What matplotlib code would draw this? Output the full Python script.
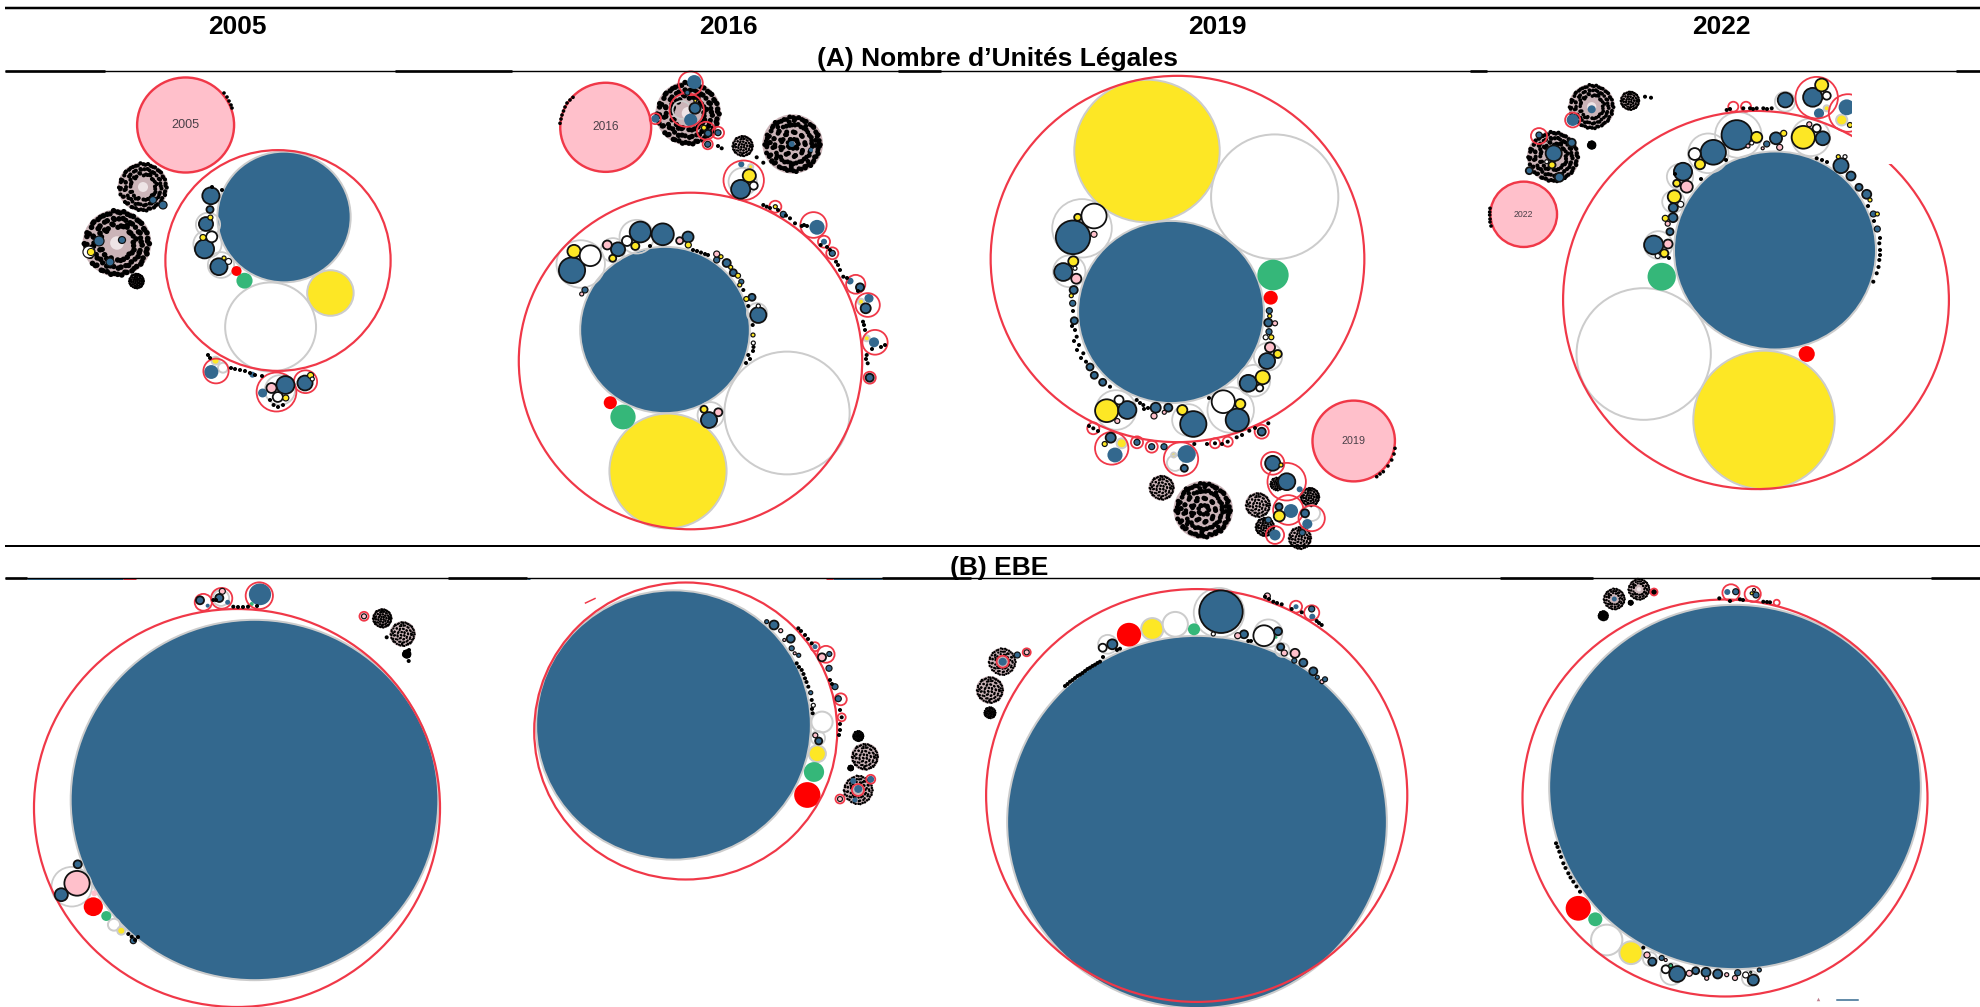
import matplotlib
matplotlib.use("Agg")
import matplotlib.pyplot as plt
from matplotlib.patches import Ellipse, Rectangle

# ---- categories (colour code of each bubble)
COLOURS = {"B": "#33688e", "Y": "#fde725", "W": "#ffffff", "P": "#ffc0cb", "G": "#35b779", "R": "#ff0000"}

YEARS = ["2005", "2016", "2019", "2022"]
YEAR_X = [237, 728, 1217, 1721]
SECTION_A = "(A) Nombre d’Unités Légales"
SECTION_B = "(B) EBE"

# ---- shared look of a dense swarm of micro-bubbles (unit offsets)
DISC_U = [(-.1,-.9),(.2,-.88),(.45,-.75),(.7,-.55),(.85,-.3),(.92,.02),(.85,.32),(.68,.6),(.42,.8),(.12,.92),
          (-.18,.88),(-.45,.76),(-.7,.58),(-.87,.3),(-.93,.02),(-.85,-.3),(-.65,-.6),(-.38,-.76),(-.1,-.62),
          (.18,-.65),(.45,-.48),(.62,-.22),(.66,.08),(.55,.38),(.3,.58),(.02,.66),(-.27,.6),(-.52,.4),(-.66,.12),
          (-.62,-.18),(-.45,-.42),(-.2,-.4),(.08,-.38),(.32,-.25),(.42,.02),(.3,.3),(.05,.42),(-.22,.34),(-.4,.1),
          (-.32,-.15),(-.08,-.15),(.15,-.08),(.14,.14),(-.1,.12),(.76,-.12),(-.76,-.05),(.05,-.78),(-.05,.8),
          (.6,.72),(-.58,-.72),(.78,.42),(-.78,.42)]
RING_U = [(-.1,-.95),(.2,-.92),(.48,-.78),(.72,-.58),(.88,-.3),(.95,.02),(.88,.32),(.7,.62),(.44,.82),(.14,.94),
          (-.18,.92),(-.46,.8),(-.72,.6),(-.9,.3),(-.96,.02),(-.88,-.3),(-.68,-.62),(-.4,-.8),(-.1,-.72),(.18,-.72),
          (.45,-.56),(.68,-.3),(.74,.06),(.62,.4),(.34,.66),(.04,.74),(-.3,.68),(-.58,.44),(-.74,.12),(-.7,-.2),
          (-.5,-.5),(.3,-.52),(.56,-.12),(.5,.2),(-.5,.2),(-.46,-.18),(.3,.42),(-.3,.46),(-.36,-.38),(.12,-.5),
          (.36,-.32),(.02,.5)]

# ---- A 2005
a05_pink = [(185.6,125,48,"2005")]
a05_plain = [(284,217,66,"B"),(270.6,327,45,"W"),(330.4,293,23,"Y"),(244.5,280.7,8,"G"),(236.5,271,5,"R"),
             (211.3,372,7,"B"),(215.5,360.7,4,"Y"),(223,367.7,5,"W"),(262.6,393,4.5,"B"),(252.5,374.7,3,"B")]
a05_grey = [(208,224.6,12),(207.5,244,14),(221,265,13),(280,390,15)]
a05_red = [(278,260.5,111.5),(216,371,12.5),(276.5,392,19.7),(305.5,381.7,11.5)]
a05_out = [(210.9,195.8,8.5,"B"),(206,224,7,"B"),(204.5,249,9.5,"B"),(211.7,236.8,5.5,"W"),(203,237.5,3,"Y"),
           (218.9,266.7,8.5,"B"),(228.5,261.4,3,"W"),(224,258,2,"Y"),(210,209.5,3.5,"B"),(210.4,217.5,2.5,"Y"),
           (285.4,385,9,"B"),(271.5,388,5,"P"),(277.8,397,5,"W"),(285.8,398,3,"Y"),(305,383,7.5,"B"),
           (310.6,375.4,3,"Y"),(312.3,379,2,"W")]
a05_dots = [(231,368),(235,369),(240,370),(245,371),(250,373),(255,375),(262,376),(273.6,405),(270,400),(278,407),(283,405),
            (208,355),(210,358),(222,190),(212,187)]
a05_swarm = [(143,187,25,"r"),(117,243,34,"r"),(136.5,281,8,"d")]
a05_swarm_blue = [(153,200,3.5,"B"),(163,205,4,"B"),(122,240,3.5,"B"),(99,241,5,"B"),(110,262,4,"B")]
a05_swarm_out = [(89,252,6,"Y")]
a05_arc = [(224,93),(227,97),(229,101),(231,105),(232,108)]

# ---- A 2016
a16_pink = [(605.7,127.3,45,"2016")]
a16_plain = [(665,330,84,"B"),(668,471,58,"Y"),(787,413,62,"W"),(623,417,12.5,"G"),(610.3,402.7,6.5,"R"),
             (817,227.3,7.5,"B"),(824,241.7,3,"B"),(850,281,3.5,"B"),(869,298.3,4.5,"B"),(861,301.7,3,"Y"),
             (874,342.3,5,"B"),(866.7,338.3,3,"Y"),(741.3,164.3,3,"B"),(750.7,166.7,2.5,"Y"),(694.3,82,7,"B"),
             (690.7,120,6.5,"B"),(655.3,118.7,4,"B"),(791.7,144,3,"B"),(811,150,2,"B")]
a16_grey = [(580.7,264,24),(613,250,12),(636.7,236.7,17),(757,313,10),(710.7,415,13),(742.7,181.7,14),(681.7,110,9)]
a16_red = [(690.5,361,170),(813.5,225,13),(824,241.7,6),(832.3,253.3,6),(855.7,284.3,9.5),(867.7,305,12),(875,342.3,12.5),
           (869.7,377.7,6),(743.7,180.3,20),(686.7,110,17),(690.7,83.3,12),(655.3,118.7,5.5),(706,130.7,9),
           (707.7,144.3,5),(718,132.7,6),(775.3,206.7,6)]
a16_out = [(572,270.3,13,"B"),(574,251.3,6.5,"Y"),(590.3,255.7,10.5,"W"),(618,249.3,7,"B"),(607.3,245,4.5,"P"),
           (612.7,258.3,3.5,"Y"),(640.3,232,10.5,"B"),(627,241,5,"W"),(635.3,246,4,"Y"),(662.7,234.3,11,"B"),
           (688,237,5.5,"B"),(679.7,240.7,3.5,"P"),(688.3,245,3,"Y"),(585,290,3,"B"),(581.7,294,2,"P"),
           (716.7,260,3,"B"),(716.7,254,3,"P"),(721,256.7,2,"Y"),(726.7,263,4,"B"),(730.7,267.3,2,"Y"),
           (733.3,272.7,3.5,"B"),(738,275.7,2.5,"Y"),(741.3,281.7,2.5,"B"),(739.7,285,2,"Y"),(752,297.3,3.5,"B"),
           (746.3,299,2.5,"Y"),(758.3,315,8,"B"),(758.3,306,2,"W"),(753,335,2,"Y"),(753.3,343,2,"W"),
           (709,420,8,"B"),(704,409.3,3.5,"Y"),(718.3,412.3,4,"P"),(860,287.3,4,"B"),(865.7,308.3,5,"B"),
           (869.7,377.7,4,"B"),(740.7,189.3,9.5,"B"),(749.3,175.7,6.5,"Y"),(753.7,185.7,4,"W"),(695,108.3,5.5,"B"),
           (695.3,100.7,1.5,"Y"),(687.3,92.7,2.5,"B"),(708,133.3,3.5,"B"),(704,127.7,2.5,"Y"),(707.7,144.3,3,"B"),
           (718,132.7,3,"B"),(783.3,214.3,3,"B"),(775.3,206.7,2,"Y"),(832.3,253.3,3,"B")]
a16_dots = [(650,246),(693,250),(697,251),(701,252.5),(705,254),(708,255),(743.3,290),(748.3,306),(752.7,325),(753.5,347),
            (748.3,355),(746,363),(750,359),(753,351),(763.3,205),(766.7,206.7),(770,208),(778,210),(786,215.5),(790,218.3),
            (795,223.3),(801.7,226),(804,225),(807,226),(820.7,245),(836,261.7),(840,270),(843.3,276.7),(838,265),(863,321.7),(865,330),
            (866.7,355),(867.7,363.3),(885,345),(881,347),(872,349),(721.7,148.3),(718,146),(756.7,157.3),(763.3,162.7),
            (847,278),(858,291),(864,325),(866,359),(827,247),(830,250)]
a16_swarm = [(688.3,113.3,32.5,"r"),(742.7,146,11,"d"),(792.7,144,30,"d")]
a16_arc = [(560,123.3),(561,119),(562,115),(563.5,111),(565,107),(567,103),(570,100),(573,97.3)]

# ---- A 2019
a19_pink = [(1353.7,441,40.8,"2019")]
a19_plain = [(1147,151,72,"Y"),(1274.7,196.8,63,"W"),(1171,312,92,"B"),(1273,275,15.5,"G"),(1270.7,297.7,7,"R"),
             (1121.7,443.3,5,"Y"),(1115,455,7.5,"B"),(1186.7,454,9,"B"),(1173.7,455,2.5,"Y"),(1299.7,489.3,3,"B"),
             (1291,511,7,"B"),(1307.3,524,5,"B"),(1275,535,5.5,"B")]
a19_grey = [(1082,228.3,29.5),(1069.3,271.3,16),(1268,356.7,14),(1254,380.7,16),(1230.7,410,23),(1188.3,420,16),
            (1116,410,20),(1175,463,8),(1312,513,8)]
a19_red = [(1177.5,259,185),(1111.7,448.3,16.5),(1181,459,17),(1137,442.3,6),(1151.7,446.7,6),(1093.3,428.3,6),
           (1215,443.3,5),(1227.7,441.7,5),(1261.7,431.7,7),(1272.7,463.3,11.5),(1286.7,481.7,19),(1288.3,510,15),
           (1311.7,518.3,13),(1275,535,9)]
a19_out = [(1073,237.3,17,"B"),(1094,216,12.5,"W"),(1077.7,217.3,3.5,"Y"),(1094,234.3,3,"P"),(1063.3,272,9,"B"),
           (1073.3,261.3,5,"Y"),(1076.3,278.7,5,"P"),(1075,268.3,2,"W"),(1073.7,290,4,"B"),(1071.3,295.7,2,"Y"),
           (1072.7,303.3,3,"B"),(1074.3,320.7,3.5,"B"),(1090,367,3.5,"B"),(1094.3,375.3,3.5,"B"),(1102.7,382.3,3.5,"B"),
           (1269.3,310.7,3,"B"),(1269.7,316,2,"Y"),(1268.3,322.7,4,"B"),(1275,323.3,2.5,"P"),(1269,331.7,3,"B"),
           (1265.7,337.3,2.5,"W"),(1271.3,337.3,2.5,"Y"),(1270,347.3,5,"P"),(1267,361,8,"B"),(1277.7,354,4,"Y"),
           (1248.3,383.3,8.5,"B"),(1262.7,377.3,7,"Y"),(1259.7,388,3.5,"W"),(1223.3,401.7,11.5,"W"),(1237.3,420,11.5,"B"),
           (1240.3,404,5,"Y"),(1193.3,424,13,"B"),(1182.3,410,5,"Y"),(1106.7,410.7,11.5,"Y"),(1127.3,410,9,"B"),
           (1119,400,4.5,"W"),(1117.3,421,2.5,"P"),(1155.7,407.7,5,"B"),(1154,416,3,"P"),(1168.3,407.7,4,"B"),
           (1164.3,412.3,2,"P"),(1110.7,437.7,5,"B"),(1104.7,444,2.5,"Y"),(1184.3,468.3,3.5,"B"),(1137,442.3,3,"B"),
           (1151.7,446.7,3,"B"),(1164,446.7,3,"B"),(1261.7,431.7,4,"B"),(1272.7,463.3,7.5,"B"),(1281,465,2,"Y"),
           (1286.7,481.7,8.5,"B"),(1279.3,516,5.5,"Y"),(1279,506.7,3.5,"B"),(1305,513.3,4,"B"),(1268.3,520,3,"B"),
           (1302.3,532.7,3,"B")]
a19_dots = [(1075,330),(1076.7,336.7),(1079,345),(1083.3,353.3),(1086,361.7),(1073,311),(1072,326),(1074,341),(1077,350),(1081,358),
            (1110,386.7),(1143.3,405),(1136.7,400),(1148,408),(1140,403),(1144,409),(1194.3,444),(1215,443.3),(1227.7,441.7),
            (1236.7,437.3),(1249.3,430.7),(1268.3,423.3),(1093.3,428.3),(1089,426),(1098,431),(1207,444),(1222,444),(1242,435),
            (1255,428),(1209,398)]
a19_swarm = [(1161.7,487.7,13,"d"),(1203.3,510,29.5,"d"),(1258,505,13,"d"),(1265,527,10,"d"),(1300,538,12,"d"),
             (1310,497,10,"d"),(1277,484,7,"d")]
a19_arc = [(1395,448.3),(1394,454),(1391.7,460),(1388,466),(1383.3,471.7),(1380,474),(1376.7,476.7)]

# ---- A 2022
a22_pink = [(1523.7,214.3,33,"2022")]
a22_plain = [(1775,250.5,100,"B"),(1764,420,70,"Y"),(1643.7,354,66.5,"W"),(1661.7,276.7,14,"G"),(1806.7,354,8,"R"),
             (1819,113.3,5,"B"),(1826.7,108.3,3,"Y"),(1846.7,107.3,8,"B"),(1841.7,120,5.5,"Y"),(1572.7,120,6,"B"),
             (1591.7,109.3,4,"B")]
a22_grey = [(1738.3,135,23),(1708.3,153.3,20),(1680,176.7,13),(1673.3,201.7,11),(1658.3,245,14),(1810.7,137.3,19),(1785,101.7,10)]
a22_red = [(1756,300,191),(1816.7,97.7,21),(1848,113,19),(1733.3,106.7,5),(1746,106.7,5),(1572.7,120,7.5),(1539,136,8)]
a22_out = [(1736.7,135,15,"B"),(1756.7,137.3,5.5,"Y"),(1748,146,2,"P"),(1751.7,143,2,"W"),(1713.3,152.3,12.5,"B"),
           (1694.7,154,6,"W"),(1700,164.3,5,"Y"),(1683,171.7,9,"B"),(1676.7,183.3,3.5,"Y"),(1686.7,186.7,6,"P"),
           (1674.3,196.7,6.5,"Y"),(1680.7,204.3,3,"W"),(1673.3,207.7,4.5,"B"),(1673,217.7,4.5,"B"),(1665.3,218.3,3,"Y"),
           (1667.7,223.7,2.5,"P"),(1670,231.7,3.5,"B"),(1653.7,245,9.5,"B"),(1668,244,4.5,"P"),(1664.3,253.3,4,"Y"),
           (1657.7,256,2.5,"W"),(1803.3,137.3,11.5,"Y"),(1822.7,138.3,7,"B"),(1816.7,128.3,4,"W"),(1809.3,124.3,2.5,"P"),
           (1776,138.3,6,"B"),(1783.7,133.3,3,"Y"),(1779.7,147.3,3,"P"),(1766.7,144,3,"B"),(1762.7,148.3,1.5,"P"),
           (1841,165.7,7.5,"B"),(1845,156.7,2,"W"),(1838.3,156.7,2,"Y"),(1851,176,4.5,"B"),(1859,187.3,3.5,"B"),
           (1866.7,194.3,4.5,"B"),(1870,200,2,"Y"),(1873.3,214,3,"B"),(1877.3,214,2,"Y"),(1877.3,229,3,"B"),
           (1812.7,97.3,9.5,"B"),(1821.7,85,6.5,"Y"),(1826.7,95.7,4,"W"),(1850,125,2.5,"Y"),(1785.3,100,7.5,"B"),
           (1553.7,153.3,8,"B"),(1552,165,3.5,"Y"),(1546.7,161.7,2,"W"),(1571.7,142.7,4,"B"),(1529.3,170.7,3.5,"B"),
           (1559.3,177.3,4.5,"B"),(1539,135,3,"B")]
a22_dots = [(1816.7,158.3),(1822,160),(1827,162),(1879.3,243.3),(1880,250),(1879.3,260),(1878.5,267),(1876.7,273.3),(1873.3,281.7),
            (1880,238),(1880,255),(1726.7,110),(1730,109),(1743.3,108.3),(1750,108.3),(1753,109),(1756.7,108.3),(1763.3,108.3),
            (1771.7,108.3),(1767,109),(1726,160),(1701,179),(1675,174),(1669,258),(1645,96.7),(1651,97.7),(1868,206),(1874,221)]
a22_swarm = [(1591.7,106.7,23,"r"),(1630,100.7,10,"d"),(1553.3,156.7,26,"r"),(1591.7,145,4,"d")]
a22_arc = [(1490,208.3),(1489.7,212),(1489.7,215),(1490,219),(1490,222),(1491,226)]
a22_mask = (1852, 64, 129, 99.5)

# ---- B 2005
b05_plain = [(254.5,800,182,"B"),(93.3,906.7,9.5,"R"),(106.3,916,5,"G"),(114,924.7,6,"W"),(121.3,930.7,4,"Y"),(94.3,893.3,3,"P"),
             (207.7,605.7,2,"B"),(227.7,602.3,2.5,"B"),(260,594.3,11,"B"),(251.7,604,2,"G")]
b05_grey = [(71.7,886.7,20),(221,598,8)]
b05_red = [(237,808,201),(203.3,602.3,8.5),(221.7,598.3,10.5),(259.3,595.7,13.5),(364,616.3,4.5)]
b05_out = [(77,883.3,12.5,"P"),(61.3,894.7,6.5,"B"),(77.7,864.3,4,"B"),(133.3,940.7,3,"B"),(200,600.3,4,"B"),(222.3,591.3,3,"P"),
           (219.3,598,4,"B"),(364,616.3,2.5,"P")]
b05_dots = [(128.3,934),(131.7,936.7),(135,940),(138,937),(213.3,600),(216,600),(233.3,606.7),(238,607),(243,607),(248,606.7),
            (257,606),(386.7,637.3),(408.7,661),(406,655),(409,650)]
b05_swarm = [(382.3,618.3,10,"d"),(402.7,634,13,"d"),(406.7,654,4,"d")]

# ---- B 2016
b16_plain = [(673.5,725,136,"B"),(807.3,795,13,"R"),(814,772,10,"G"),(817.3,753.7,8.5,"Y"),(822,722,10.5,"W"),
             (815,646.7,2.5,"B"),(858.3,789,4,"B"),(853.3,781,3,"B"),(870.7,779.3,3.5,"B"),(855,800,2.5,"B")]
b16_grey = [(818,738,7)]
b16_red = [(685.7,731,150),(815,646.7,4.5),(826,654.3,8.5),(840.7,699.3,6),(841.7,717.3,4),(840,799,4.5),(870.7,779.3,4.5),(858,790,6)]
b16_out = [(818.7,741,3.5,"B"),(815.3,735.3,2.5,"P"),(774,625,4.5,"B"),(780.7,630.7,2,"P"),(790.7,638.7,4,"B"),(766.7,621.7,2,"B"),
           (784.3,640,1.5,"P"),(791.7,648.3,2.5,"B"),(794.7,653.3,1.5,"P"),(798.7,655.3,2,"B"),(810.7,692.7,2,"B"),
           (813.3,705.3,2,"W"),(822,657.3,4,"P"),(829.3,654,2.5,"B"),(829,668.3,3,"B"),(835,686.7,3,"B"),(838.3,698.7,3,"B"),
           (840,799,2.5,"P")]
b16_dots = [(796.7,663.3),(799,667),(801.7,670),(803.5,674),(805,678.3),(806.5,682),(808.3,686.7),(811.7,700),(812.7,713.3),(812,709),
            (798.3,628.3),(801,631),(805,635),(808,639),(811.7,643.3),(830,680),(832,684),(840,710),(841.7,717.3),(840,724),(840,730),(839,735)]
b16_swarm = [(858.3,736,5.5,"d"),(865,756.7,14,"d"),(850.7,768,2.5,"d"),(858.3,790,15,"r")]
b16_stroke_x = [585.5, 595]
b16_stroke_y = [603, 598.5]

# ---- B 2019
b19_plain = [(1197,822,188,"B"),(1129,634.7,12,"R"),(1152.3,629,11,"Y"),(1175.3,624.3,12.5,"W"),(1194,629.3,6,"G"),
             (1276,637.3,1.5,"G"),(1296,606.7,2.5,"B"),(1312.3,616.7,3,"B"),(1002.7,661.7,4,"B")]
b19_grey = [(1219,612.7,25),(1268.3,633.3,14),(1282.3,650,7),(1107.7,644.3,9.5)]
b19_red = [(1196.7,795.5,208.5),(1296,606.7,6),(1311.7,612.7,7.5),(1002.7,661.7,6),(1026.7,652.3,4)]
b19_out = [(1221,611.7,21.5,"B"),(1213.3,634,2,"W"),(1264,635.7,10.5,"W"),(1278,631.3,4,"B"),(1244,634.3,4,"B"),(1237.7,635.7,3,"P"),
           (1280.7,647,3.5,"B"),(1284.3,653,3,"P"),(1295,653.3,4.5,"P"),(1294.3,660.7,2.5,"B"),(1303.3,662.7,4,"B"),
           (1313.3,671.3,4,"B"),(1317.3,677.3,2,"B"),(1322,681.7,2,"P"),(1325,679.3,2.5,"B"),(1112.3,644.3,5,"B"),
           (1102.7,647.7,4,"W"),(1311.7,609,3,"B"),(1267.3,596,3,"P"),(1017.3,655,3,"B"),(1026.7,652.3,2.5,"P")]
b19_dots = [(1248.3,641),(1251,641),(1120,648.7),(1117,650),(1065,686),(1067.5,684),(1070,681.7),(1072.5,680),(1075,678),(1077.5,676),
            (1080,674.7),(1082.5,673),(1085,671),(1087.5,669),(1090,667.7),(1092.5,666),(1095,664.7),(1097.5,663),(1100,661.7),(1103,657),
            (1265,596.7),(1269,599),(1273.3,601.7),(1277,603),(1281.7,604.3),(1291.7,609),(1301.7,612.3),(1316.7,621),(1321.7,625),(1319,623)]
b19_swarm = [(1002.3,661.7,14,"r"),(990,690,14,"d"),(990,712.7,6,"d")]

# ---- B 2022
b22_plain = [(1735,787,184,"B"),(1578.3,908.3,12.5,"R"),(1595.3,919.3,7,"G"),(1606.7,940,15.5,"W"),(1631,952.7,11.5,"Y"),
             (1727.3,592,3,"B"),(1614.3,599,2.5,"B")]
b22_grey = [(1650,959,7),(1671.7,974,11),(1750,978.3,8)]
b22_red = [(1725,798,200.5),(1731,592.7,8.5),(1752.7,594,8),(1654,592,3.5),(1776.7,602.7,3)]
b22_out = [(1647,955,3,"P"),(1652.3,961.7,4,"B"),(1661.7,958,2.5,"B"),(1665.7,960,1.5,"P"),(1677.3,974,8,"B"),(1665.7,969.3,4,"W"),
           (1670.7,965.7,2,"G"),(1689.3,973.3,3,"P"),(1695.7,970.7,3.5,"B"),(1706,972.3,4.5,"B"),(1706.7,978.3,2,"P"),
           (1717.7,974,4.5,"B"),(1726.7,974.7,2,"P"),(1735,978,2.5,"P"),(1737.7,972.7,3,"B"),(1753.3,980,5.5,"B"),
           (1745.7,975,3,"W"),(1750.7,972.3,1,"G"),(1759.3,970,2,"B"),(1735.7,591.7,3,"B"),(1756,595,3,"B"),
           (1751.7,593.3,1.5,"Y"),(1754,590,1.5,"P")]
b22_dots = [(1556,843.3),(1557.5,847),(1559.3,851.7),(1561,857),(1563.3,863.3),(1565.5,868),(1568.3,873.3),(1570.5,877.5),(1573.3,881.7),
            (1576.5,886.5),(1580,891.7),(1643.3,947.7),(1719.3,598.3),(1740,599.3),(1743,600),(1763.3,601.7),(1767,602),(1770,602.3),(1730,601)]
b22_swarm = [(1614.3,599,11,"r"),(1639,589.3,11,"r"),(1603.3,615.7,5,"d"),(1630.7,602.7,2,"d"),(1654,592,2,"d")]
b22_mark_x = [1837, 1858]
b22_mark_y = [1000.3, 1000.3]
b22_tick = (1817.7, 999)

# ---- rules of the table: (y, x-start, x-end, width in px)
RULE_Y = [7.5, 70.5, 546, 577.5]
RULE_W = [2.5, 1.4, 2.0, 1.4]
RULE_THICK_70 = [(5,105),(395,512),(898,941),(1470,1487),(1956,1981)]
RULE_THICK_577 = [(5,27),(448,527),(882,971),(1500,1593),(1931,1981)]
SMEAR_BLUE = [(27,123),(527,530),(833,882)]
SMEAR_RED = [(123,136),(826,833)]

PANELS = [
    (a05_pink,a05_plain,a05_grey,a05_red,a05_out,a05_dots,a05_swarm,a05_arc),
    (a16_pink,a16_plain,a16_grey,a16_red,a16_out,a16_dots,a16_swarm,a16_arc),
    (a19_pink,a19_plain,a19_grey,a19_red,a19_out,a19_dots,a19_swarm,a19_arc),
    (a22_pink,a22_plain,a22_grey,a22_red,a22_out,a22_dots,a22_swarm,a22_arc),
    ([],b05_plain,b05_grey,b05_red,b05_out,b05_dots,b05_swarm,[]),
    ([],b16_plain,b16_grey,b16_red,b16_out,b16_dots,b16_swarm,[]),
    ([],b19_plain,b19_grey,b19_red,b19_out,b19_dots,b19_swarm,[]),
    ([],b22_plain,b22_grey,b22_red,b22_out,b22_dots,b22_swarm,[]),
]

RED_EDGE = "#f03848"
GREY_EDGE = "#cccccc"
SANS = ["Liberation Sans", "DejaVu Sans"]
PX = 72 / 100  # one pixel in points

fig = plt.figure(figsize=(19.81, 10.07), dpi=100, facecolor="white")
ax = fig.add_axes([0, 0, 1, 1])
ax.set_xlim(0, 1981)
ax.set_ylim(1007, 0)
ax.axis("off")


def bubble(x, y, r, fc="none", ec="none", lw=0.0, z=2):
    # the source image is stretched very slightly in x
    ax.add_patch(Ellipse((x, y), 2 * r * 1.01, 2 * r * 0.99, facecolor=fc, edgecolor=ec, linewidth=lw * PX, zorder=z))


def swarm(x, y, R, kind, z):
    pts = DISC_U if kind == "d" else RING_U
    bubble(x, y, R, fc="#cbb4b8", z=z)
    if kind == "r":
        bubble(x, y, R * 0.2, fc="#eee4e6", z=z)
    dot = max(1.1, 0.082 * R)
    for u, v in pts:
        bubble(x + u * R, y + v * R, dot, fc="black", z=z + 0.1)
    if R >= 8:
        for u, v in pts:
            bubble(x + v * R * 0.96, y - u * R * 0.96, dot, fc="black", z=z + 0.1)
    if R >= 18:
        for u, v in pts:
            bubble(x + (u + v) * 0.7 * R * 0.97, y + (v - u) * 0.7 * R * 0.97, dot * 0.95, fc="black", z=z + 0.1)


for pink, plain, grey, red, out, dots, swarms, arc in PANELS:
    big = [b for b in plain if b[2] > 30 or b[3] in "WY"]
    small = [b for b in plain if b not in big]
    for x, y, r, c in big:
        bubble(x, y, r, fc=COLOURS[c], ec=GREY_EDGE, lw=2.0, z=2)
    for x, y, R, k in swarms:
        swarm(x, y, R, k, 2.2)
    for x, y, r in grey:
        bubble(x, y, r, ec=GREY_EDGE, lw=1.8, z=2.5)
    for x, y, r in red:
        bubble(x, y, r, ec=RED_EDGE, lw=2.2 if r > 30 else 1.8, z=4)
    for x, y, r, c in small:
        bubble(x, y, r, fc=COLOURS[c], z=3)
    for x, y, r, c in out:
        bubble(x, y, r, fc=COLOURS[c], ec="#111111", lw=1.8 if r > 3 else 1.2, z=5)
    for x, y in dots:
        bubble(x, y, 2.0, fc="black", z=5)
    for x, y in arc:
        bubble(x, y, 1.8, fc="black", z=3.5)
    for x, y, r, label in pink:
        bubble(x, y, r, fc=COLOURS["P"], ec=RED_EDGE, lw=2.4, z=3)
        ax.text(x, y, label, ha="center", va="center", fontsize=r * 0.185 + 0.2, color="#4a4048", family=SANS, zorder=6)

for x, y, r, c in a05_swarm_blue:
    bubble(x, y, r, fc=COLOURS[c], ec="#111111", lw=1.2, z=5)
for x, y, r, c in a05_swarm_out:
    bubble(x, y, r, fc=COLOURS["W"], ec="#111111", lw=1.2, z=5)
    bubble(x + 2, y, r * 0.6, fc=COLOURS[c], ec="#111111", lw=1, z=5.1)

# the hole cut in the top-right of the 2022 panel
ax.add_patch(Rectangle(a22_mask[:2], a22_mask[2], a22_mask[3], facecolor="white", edgecolor="none", zorder=7))

ax.plot(b16_stroke_x, b16_stroke_y, color=RED_EDGE, lw=1.5 * PX, zorder=4)
ax.plot(b22_mark_x, b22_mark_y, color=COLOURS["B"], lw=1.5 * PX, zorder=4)
ax.plot([b22_tick[0]], [b22_tick[1]], marker="^", ms=2.5, color="#c08090", mec="none", zorder=4)

for y, w in zip(RULE_Y, RULE_W):
    ax.plot([5, 1981], [y, y], color="black", lw=w * PX, solid_capstyle="butt", zorder=8)
for a, b in RULE_THICK_70:
    ax.plot([a, b], [70.5, 70.5], color="black", lw=2.6 * PX, solid_capstyle="butt", zorder=8)
for a, b in RULE_THICK_577:
    ax.plot([a, b], [577.5, 577.5], color="black", lw=2.6 * PX, solid_capstyle="butt", zorder=8)
for a, b in SMEAR_BLUE:
    ax.plot([a, b], [579, 579], color=COLOURS["B"], lw=1 * PX, solid_capstyle="butt", zorder=7.5)
for a, b in SMEAR_RED:
    ax.plot([a, b], [579, 579], color=RED_EDGE, lw=1 * PX, solid_capstyle="butt", zorder=7.5)

for label, x in zip(YEARS, YEAR_X):
    ax.text(x, 27.5, label, ha="center", va="center", fontsize=19, fontweight="bold", family=SANS, zorder=9)
ax.text(998, 59, SECTION_A, ha="center", va="center", fontsize=19, fontweight="bold", family=SANS, zorder=9)
ax.text(999, 568.5, SECTION_B, ha="center", va="center", fontsize=19, fontweight="bold", family=SANS, zorder=9)

fig.savefig("out.png", dpi=100, facecolor="white")
